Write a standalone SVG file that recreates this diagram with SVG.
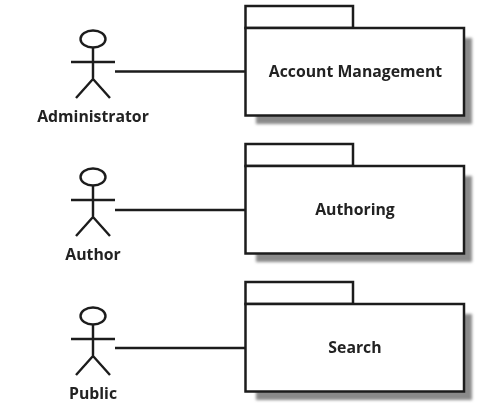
<svg xmlns="http://www.w3.org/2000/svg" width="499" height="403" viewBox="0 0 499 403">
<style>
.l{fill:none;stroke:#1c1c1c;stroke-width:2.4}
.b{fill:#fff;stroke:#1c1c1c;stroke-width:2.5}
.s{fill:#8a8a8a;filter:url(#blur)}
.t{font-family:"Open Sans","Liberation Sans",sans-serif;font-weight:700;font-size:15.8px;fill:#222;text-anchor:middle}
</style>
<defs>
<filter id="blur" x="-10%" y="-10%" width="120%" height="120%"><feGaussianBlur stdDeviation="1.8"/></filter>
<filter id="soft" x="-5%" y="-5%" width="110%" height="110%"><feGaussianBlur stdDeviation="0.45"/></filter>
<g id="actor" class="l"><ellipse cx="93" cy="39" rx="12.5" ry="8.5"/><path d="M93 48V79M71 62H115M76 98L93 79L110 98"/></g>
<g id="pkg"><rect class="s" x="256" y="38" width="216" height="86"/><rect class="b" x="245.5" y="6" width="107.5" height="22"/><rect class="b" x="245.5" y="28" width="218.5" height="87.5"/></g>
</defs>
<rect width="499" height="403" fill="#fff"/>
<g filter="url(#soft)">
<g id="connectors" class="l">
<path d="M115 71.5H245"/>
<path d="M115 210H245"/>
<path d="M115 348H245"/>
</g>
<g id="actor-administrator"><use href="#actor"/><text class="t" x="93" y="121.5">Administrator</text></g>
<g id="actor-author"><use href="#actor" y="138"/><text class="t" x="93" y="259.7">Author</text></g>
<g id="actor-public"><use href="#actor" y="277"/><text class="t" x="93" y="398.5">Public</text></g>
<g id="package-account-management"><use href="#pkg"/><text class="t" x="355.5" y="76.8">Account Management</text></g>
<g id="package-authoring"><use href="#pkg" y="138"/><text class="t" x="355" y="214.8">Authoring</text></g>
<g id="package-search"><use href="#pkg" y="276"/><text class="t" x="355" y="352.8">Search</text></g>
</g>
</svg>
